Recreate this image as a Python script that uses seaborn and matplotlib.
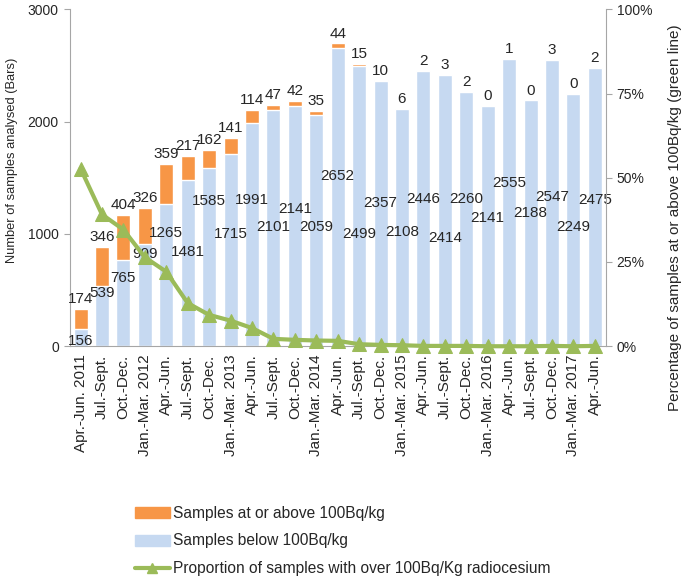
import numpy as np
import matplotlib
matplotlib.use("Agg")
import matplotlib.pyplot as plt
import seaborn as sns
from matplotlib.patches import Patch
from matplotlib.lines import Line2D
from matplotlib.ticker import FixedLocator, PercentFormatter

# quarters sampled
periods = ["Apr.-Jun. 2011", "Jul.-Sept.", "Oct.-Dec.", "Jan.-Mar. 2012",
           "Apr.-Jun.", "Jul.-Sept.", "Oct.-Dec.", "Jan.-Mar. 2013",
           "Apr.-Jun.", "Jul.-Sept.", "Oct.-Dec.", "Jan.-Mar. 2014",
           "Apr.-Jun.", "Jul.-Sept.", "Oct.-Dec.", "Jan.-Mar. 2015",
           "Apr.-Jun.", "Jul.-Sept.", "Oct.-Dec.", "Jan.-Mar. 2016",
           "Apr.-Jun.", "Jul.-Sept.", "Oct.-Dec.", "Jan.-Mar. 2017",
           "Apr.-Jun."]
below = [156, 539, 765, 909, 1265, 1481, 1585, 1715, 1991, 2101, 2141, 2059,
         2652, 2499, 2357, 2108, 2446, 2414, 2260, 2141, 2555, 2188, 2547,
         2249, 2475]
above = [174, 346, 404, 326, 359, 217, 162, 141, 114, 47, 42, 35,
         44, 15, 10, 6, 2, 3, 2, 0, 1, 0, 3, 0, 2]
# proportion (%) at or above 100Bq/kg
pct_above = [52.7, 39.1, 34.6, 26.4, 22.1, 12.8, 9.3, 7.6, 5.4, 2.2, 1.9, 1.7,
             1.6, 0.6, 0.4, 0.3, 0.1, 0.1, 0.1, 0.0, 0.0, 0.0, 0.1, 0.0, 0.1]

# where the "below" labels sit inside the bars (manually moved in the original)
below_label_y = [45, 472, 605, 819, 1006, 837, 1291, 997, 1300, 1060, 1220, 1060,
                 1514, 997, 1273, 1015, 1309, 962, 1309, 1140, 1451, 1184, 1327,
                 1060, 1300]

orange = "#F79646"
blue = "#C6D9F1"
green = "#9BBB59"
grey = "#A6A6A6"

sns.set_style("white")
plt.rcParams["font.family"] = ["Liberation Sans", "DejaVu Sans"]

n = len(periods)
idx = np.arange(n)
total = [b + a for b, a in zip(below, above)]

fig = plt.figure(figsize=(6.85, 5.79), dpi=100)
ax = fig.add_axes([0.102, 0.402, 0.782, 0.582])

sns.barplot(x=idx, y=total, color=orange, width=0.65, saturation=1, ax=ax)
sns.barplot(x=idx, y=below, color=blue, width=0.65, saturation=1, ax=ax)

for i in range(n):
    ax.text(i, total[i] + 25, str(above[i]), ha="center", va="bottom", fontsize=11)
    ax.text(i, below_label_y[i], str(below[i]), ha="center", va="center", fontsize=11)

ax.set_ylim(0, 3000)
ax.set_xlim(-0.5, n - 0.5)
ax.set_yticks([0, 1000, 2000, 3000])
ax.set_xticks(idx)
ax.set_xticklabels(periods, rotation=90, fontsize=11)
ax.xaxis.set_minor_locator(FixedLocator(np.arange(-0.5, n, 1.0)))
ax.tick_params(axis="x", which="major", length=0, pad=6)
ax.tick_params(axis="x", which="minor", length=5, color=grey, direction="out")
ax.tick_params(axis="y", length=4, color=grey, direction="out", labelsize=10, pad=4)
ax.set_xlabel("")
ax.set_ylabel("")
for side in ["top", "right"]:
    ax.spines[side].set_visible(False)
for side in ["left", "bottom"]:
    ax.spines[side].set_color(grey)

ax2 = ax.twinx()
sns.lineplot(x=idx, y=pct_above, color=green, linewidth=3, marker="^",
             markersize=9.5, markeredgecolor=green, ax=ax2, clip_on=False)
ax2.set_ylim(0, 100)
ax2.set_yticks([0, 25, 50, 75, 100])
ax2.yaxis.set_major_formatter(PercentFormatter(decimals=0))
ax2.tick_params(axis="y", length=4, color=grey, direction="out", labelsize=10, pad=4)
ax2.set_ylabel("")
for side in ["top", "left", "bottom"]:
    ax2.spines[side].set_visible(False)
ax2.spines["right"].set_color(grey)

fig.text(0.018, 1 - 160 / 579, "Number of samples analysed (Bars)",
         rotation=90, ha="center", va="center", fontsize=9.3)
fig.text(0.985, 1 - 218 / 579, "Percentage of samples at or above 100Bq/kg (green line)",
         rotation=90, ha="center", va="center", fontsize=11)

handles = [Patch(color=orange), Patch(color=blue),
           Line2D([], [], color=green, linewidth=3, marker="^", markersize=7)]
labels = ["Samples at or above 100Bq/kg", "Samples below 100Bq/kg",
          "Proportion of samples with over 100Bq/Kg radiocesium"]
fig.legend(handles, labels, loc="center left", bbox_to_anchor=(0.197, 1 - 541 / 579),
           frameon=False, fontsize=11.2, handlelength=2.25, handletextpad=0.2,
           labelspacing=0.82, borderaxespad=0, borderpad=0)

fig.savefig("out.png", dpi=100)
